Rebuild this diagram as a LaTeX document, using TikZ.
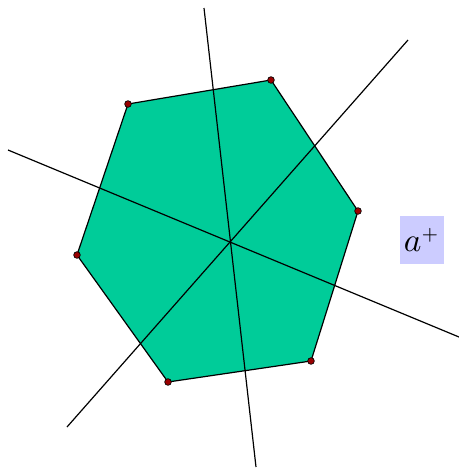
\documentclass[tikz,border=0pt]{standalone}
\usepackage{graphicx}
\usepackage{tikz}
\usetikzlibrary{calc}
\definecolor{hxfill} {HTML}{00CC99}
\definecolor{hxdot}  {HTML}{990000}
\definecolor{hxlabel}{HTML}{CCCCFF}
\tikzset{
  hxface/.style={draw=black, fill=hxfill, line width=0.9pt, line join=round},
  hxvertex/.style={circle, draw=black, fill=hxdot, inner sep=0pt, minimum size=5pt, line width=0.5pt},
  hxaxis/.style={draw=black, line width=0.9pt},
  hxtag/.style={fill=hxlabel, inner sep=0pt, minimum width=33pt, minimum height=36pt},
}
\begin{document}
\begin{tikzpicture}[x=0.75pt,y=-0.75pt]
  \useasboundingbox (0,0) rectangle (459,469);
  \coordinate (p1) at (128,104);
  \coordinate (p2) at (271,80);
  \coordinate (p3) at (358,211);
  \coordinate (p4) at (311,361);
  \coordinate (p5) at (168,382);
  \coordinate (p6) at (77,255);
  \fill[hxfill] (p1) -- (p2) -- (p3) -- (p4) -- (p5) -- (p6) -- cycle;
  % axes through the centre
  \coordinate (a1) at (204,8);   \coordinate (b1) at (256,467);
  \coordinate (a2) at (8,150);   \coordinate (b2) at (459,337);
  \coordinate (a3) at (67,427);  \coordinate (b3) at (408,40);
  \draw[hxaxis] (a1) -- (b1);
  \draw[hxaxis] (a2) -- (b2);
  \draw[hxaxis] (a3) -- (b3);
  \draw[hxface, fill=none] (p1) -- (p2) -- (p3) -- (p4) -- (p5) -- (p6) -- cycle;
  \foreach \i in {1,...,6}
    \node[hxvertex] (v\i) at (p\i) {};
  \node[hxtag] (tag) at (422,240) {\scalebox{2.5}{$a^{\scriptscriptstyle +}$}};
\end{tikzpicture}
\end{document}
